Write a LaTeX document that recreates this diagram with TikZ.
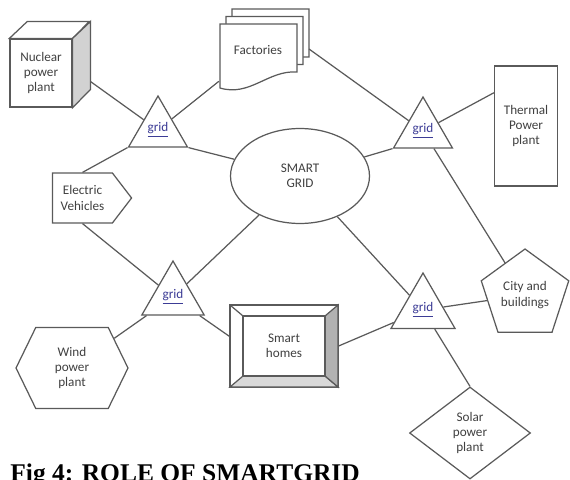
\documentclass[tikz,border=0pt]{standalone}
\usepackage{fontspec}
\setmainfont{Carlito}
\newfontfamily\capfont{Liberation Serif}
\usetikzlibrary{shapes.geometric,shapes.symbols}

\definecolor{gridblue}{RGB}{60,60,150}
\definecolor{edgegray}{RGB}{90,90,90}

\tikzset{
  block/.style={draw=edgegray, line width=0.7pt, fill=white, text=black!75, align=center,
    font=\fontsize{7.5}{8.8}\selectfont, inner sep=0pt},
  gridtri/.style={block, regular polygon, regular polygon sides=3, minimum size=13.6mm,
    text=gridblue},
  link/.style={draw=edgegray, line width=0.7pt}
}

\begin{document}
\begin{tikzpicture}[x=0.02cm,y=-0.02cm]
\useasboundingbox (0,0) rectangle (570,479);

% nuclear cube
\node[block, minimum width=12.4mm, minimum height=13.6mm] (nuc) at (41,73) {Nuclear\\power\\plant};
\draw[block] (nuc.north west) -- ++(18,-17) -- ++(62,0) -- (nuc.north east) -- cycle;
\draw[block, fill=gray!35] (nuc.north east) -- ++(18,-17) -- ++(0,68) -- (nuc.south east) -- cycle;
\coordinate (nucR) at ([shift={(18,-26)}]nuc.south east);

% factories (stack of documents)
\foreach \d in {2,1,0}
\draw[block, shift={(6*\d,-7.5*\d)}] (220,24) -- (297,24) -- (297,72)
  .. controls (268,70) and (250,97) .. (220,88) -- cycle;
\node[block, draw=none, fill=none, minimum width=15.4mm, minimum height=12.8mm] (fac) at (258,50) {Factories};
\coordinate (facR) at (309,49);

% thermal
\node[block, minimum width=12.6mm, minimum height=24mm] (therm) at (526,126) {Thermal\\Power\\plant};

% electric vehicles
\node[block, signal, signal to=east, signal pointer angle=105, minimum width=15.8mm,
  minimum height=10mm] (ev) at (82.5,198) {Electric\\Vehicles};

% smart grid
\node[block, ellipse, minimum width=27.8mm, minimum height=19mm] (sg) at (300,176) {SMART\\GRID};

% grids
\node[gridtri] (g1) at (158,130) {\underline{grid}};
\node[gridtri] (g2) at (423,131) {\underline{grid}};
\node[gridtri, minimum size=14.4mm] (g3) at (173,297) {\underline{grid}};
\node[gridtri, minimum size=14.8mm] (g4) at (423,310) {\underline{grid}};

% city
\node[block, regular polygon, regular polygon sides=5, minimum size=18.4mm] (city) at (525,295) {City and\\buildings};

% smart homes
\node[block, minimum width=21.6mm, minimum height=16.4mm] (homes) at (284,346) {Smart\\homes};
\begin{scope}[shift={(homes.center)}]
\filldraw[link, fill=gray!30] (-54,41) -- (54,41) -- (41,30) -- (-41,30) -- cycle;
\filldraw[link, fill=gray!60] (54,-41) -- (54,41) -- (41,30) -- (41,-30) -- cycle;
\draw[link] (-41,-30) rectangle (41,30);
\draw[link] (-54,-41) -- (-41,-30);
\end{scope}

% solar
\node[block, diamond, minimum width=24.2mm, minimum height=18.4mm] (solar) at (470,433) {Solar\\power\\plant};

% wind
\node[block, signal, signal to=east and west, signal pointer angle=128, minimum width=22.4mm,
  minimum height=16.2mm] (wind) at (72,368) {Wind\\power\\plant};

% links
\draw[link] (nucR) -- (g1);
\draw[link] (g1) -- (fac);
\draw[link] (ev.north) -- (g1.corner 2);
\draw[link] (g1.corner 3) -- (sg);
\draw[link] (facR) -- (g2);
\draw[link] (g2) -- (therm.134);
\draw[link] (g2.corner 2) -- (sg);
\draw[link] (g2) -- (city);
\draw[link] (ev.south) -- (g3);
\draw[link] (g3) -- (sg);
\draw[link] (g3) -- (wind);
\draw[link] (g3) -- (homes.170);
\draw[link] (sg) -- (g4);
\draw[link] (homes.east) -- (g4);
\draw[link] (g4) -- (city);
\draw[link] (g4) -- (solar.north);

% caption
\node[anchor=base west, inner sep=0pt, font=\capfont\bfseries\fontsize{14.5}{16}\selectfont] (cap) at (10,481) {Fig 4: ROLE OF SMARTGRID};
\end{tikzpicture}
\end{document}
